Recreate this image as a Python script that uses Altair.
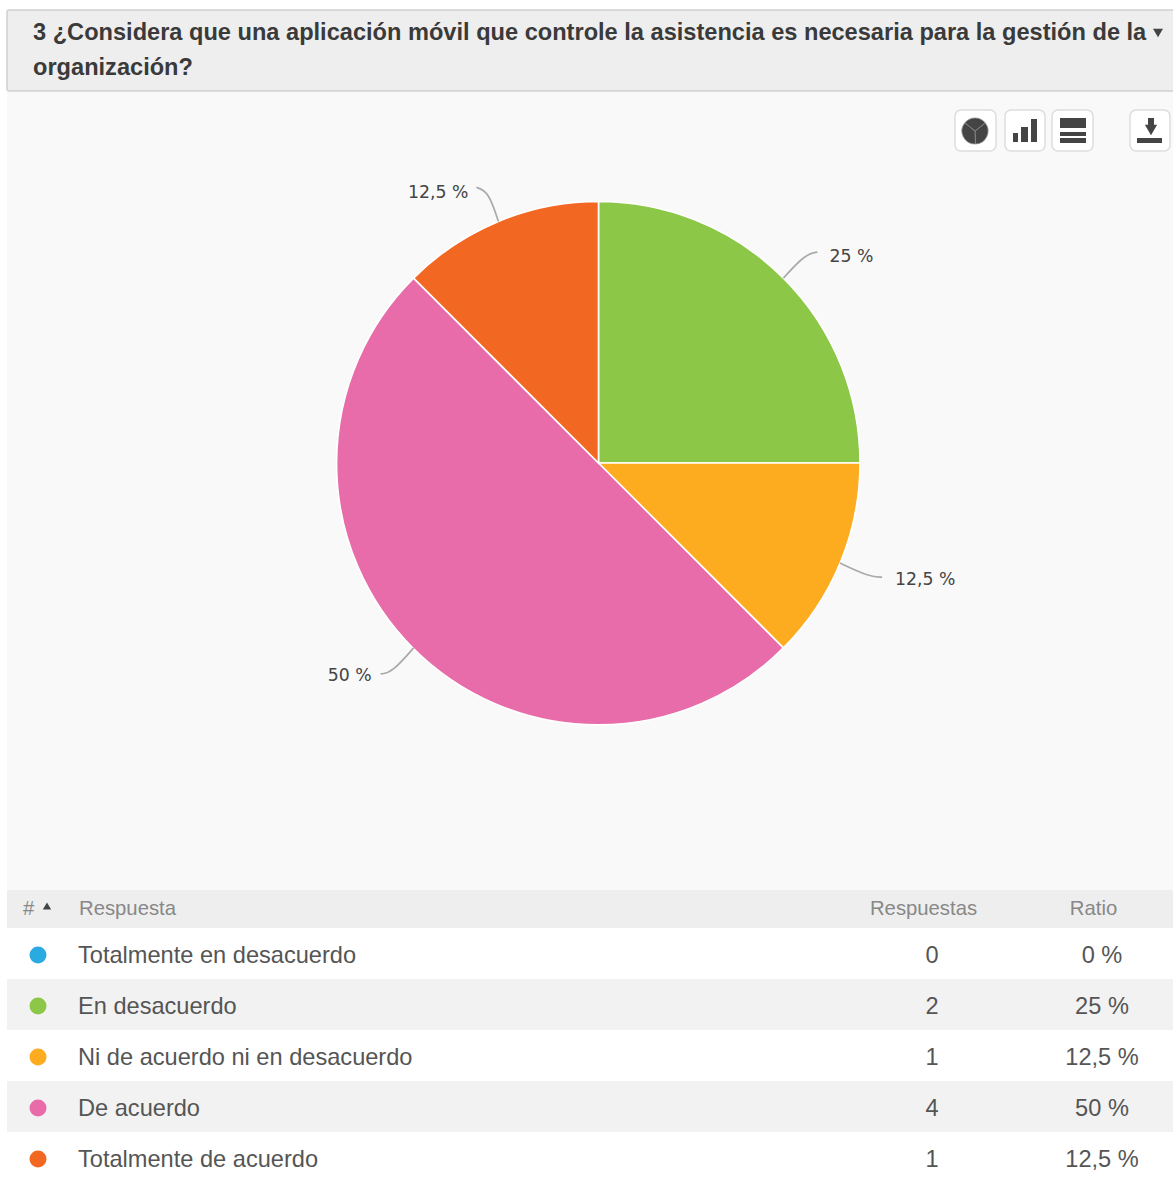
import math
import altair as alt
import pandas as pd

# Survey results
answers = ["Totalmente en desacuerdo", "En desacuerdo", "Ni de acuerdo ni en desacuerdo",
           "De acuerdo", "Totalmente de acuerdo"]
counts = [0, 2, 1, 4, 1]
colors = ["#29abe2", "#8cc747", "#fdab1f", "#e76ca9", "#f26722"]
question = ["3 ¿Considera que una aplicación móvil que controle la asistencia es necesaria para la gestión de la",
            "organización?"]

W, H = 1173, 1182
CX, CY, R = 598.5, 463, 261.5
SANS = "Liberation Sans"
total = sum(counts)


def pct(v):
    s = f"{v / total * 100:g}".replace(".", ",")
    return f"{s} %"


ratios = [pct(v) for v in counts]

x_scale = alt.Scale(domain=[0, W], range=[0, W], nice=False, zero=False)
y_scale = alt.Scale(domain=[0, H], range=[0, H], nice=False, zero=False)
X = alt.X("x:Q", scale=x_scale, axis=None)
Y = alt.Y("y:Q", scale=y_scale, axis=None)


def boxes(rows, **mark):
    df = pd.DataFrame(rows, columns=["x", "x2", "y", "y2", "fill"])
    return alt.Chart(df).mark_rect(**mark).encode(
        x=X, x2="x2:Q", y=Y, y2="y2:Q", fill=alt.Fill("fill:N", scale=None))


def texts(rows, **mark):
    df = pd.DataFrame(rows, columns=["x", "y", "t"])
    return alt.Chart(df).mark_text(**mark).encode(x=X, y=Y, text="t:N")


def triangles(rows, size, fill, shape="triangle-down"):
    df = pd.DataFrame(rows, columns=["x", "y"])
    return alt.Chart(df).mark_point(shape=shape, filled=True, size=size,
                                    color=fill, opacity=1).encode(x=X, y=Y)


# Page panels: question header, plot background and table stripes
row_edges = [(928, 979), (979, 1030), (1030, 1081), (1081, 1132), (1132, 1182)]
row_fills = ["#ffffff", "#f2f2f2", "#ffffff", "#f2f2f2", "#ffffff"]
panels = boxes(
    [[7, W, 92, 890, "#f9f9f9"], [7, W, 890, 928, "#eeeeee"]]
    + [[7, W, a, b, f] for (a, b), f in zip(row_edges, row_fills)]
)
header = boxes([[7, W + 4, 10, 91, "#eeeeee"]], stroke="#d0d0d0", strokeWidth=1.5, cornerRadius=2)
question_text = texts(
    [[33, 33, question[0]], [33, 68, question[1]]],
    align="left", baseline="middle", font=SANS, fontSize=23.6, fontWeight="bold", color="#3a3a3a",
)
caret = triangles([[1158, 33]], 100, "#444444")

# Toolbar buttons and their glyphs
buttons = boxes(
    [[955, 996, 110, 151, "#ffffff"], [1005, 1045, 110, 151, "#ffffff"],
     [1052, 1093, 110, 151, "#ffffff"], [1130, 1170, 110, 151, "#ffffff"]],
    stroke="#dddddd", strokeWidth=1.5, cornerRadius=6,
)
glyphs = boxes(
    [[1013, 1018, 133, 142, "#444444"], [1021, 1028, 127, 142, "#444444"], [1031, 1037, 119, 142, "#444444"],
     [1060, 1086, 118, 128, "#444444"], [1060, 1086, 132, 136, "#444444"], [1060, 1086, 138, 143, "#444444"],
     [1137, 1162, 138, 143, "#444444"], [1148, 1154, 118, 128, "#444444"]],
)
download_tip = triangles([[1151, 130]], 150, "#444444")
pie_glyph = alt.layer(*[
    alt.Chart(pd.DataFrame({"k": [0]})).mark_arc(
        outerRadius=13, fill="#444444", stroke="#888888", strokeWidth=0.8
    ).encode(x=alt.value(975), y=alt.value(131), theta=alt.value(a), theta2=alt.value(b))
    for a, b in [(0.9, 3.1), (3.1, 5.4), (5.4, 7.183)]
])

# Pie of the answers, starting at twelve o'clock and running clockwise
pie_df = pd.DataFrame({"answer": answers, "count": counts, "order": range(len(counts))})
color_scale = alt.Scale(domain=answers, range=colors)
pie = alt.Chart(pie_df).mark_arc(outerRadius=R, stroke="#ffffff", strokeWidth=1.6).encode(
    x=alt.value(CX), y=alt.value(CY),
    theta=alt.Theta("count:Q", stack=True, scale=alt.Scale(domain=[0, total], range=[0, 2 * math.pi])),
    order=alt.Order("order:Q"),
    color=alt.Color("answer:N", scale=color_scale, legend=None),
)

# Leader lines run from each slice's mid-angle to an elbow next to its label
knees = {1: (22, -24, 34, -26), 2: (30, 14, 42, 14), 3: (-22, 25, -33, 26), 4: (-10, -30, -22, -34)}
label_gap = {1: 12, 2: 13, 3: -9, 4: -8}
label_rise = {1: 5, 2: 3, 3: 2, 4: 6}
leader_rows, label_rows = [], []
acc = 0
for i, v in enumerate(counts):
    mid = (acc + v / 2) / total * 2 * math.pi
    acc += v
    if v == 0:
        continue
    px, py = CX + R * math.sin(mid), CY - R * math.cos(mid)
    kx, ky, ex, ey = knees[i]
    for step, (a, b) in enumerate([(px, py), (px + kx, py + ky), (px + ex, py + ey)]):
        leader_rows.append({"slice": i, "step": step, "x": a, "y": b})
    label_rows.append({"x": px + ex + label_gap[i], "y": py + ey + label_rise[i], "t": ratios[i],
                       "a": "left" if label_gap[i] > 0 else "right"})
leaders = alt.Chart(pd.DataFrame(leader_rows)).mark_line(
    interpolate="basis", color="#aaaaaa", strokeWidth=1.7
).encode(x=X, y=Y, detail="slice:N", order="step:Q")
label_df = pd.DataFrame(label_rows)
pie_labels = alt.layer(*[
    alt.Chart(label_df[label_df.a == side]).mark_text(
        align=side, baseline="middle", font="DejaVu Sans", fontSize=17.3, color="#444444"
    ).encode(x=X, y=Y, text="t:N")
    for side in ["left", "right"]
])

# Results table
head_left = texts([[23, 909, "#"], [79, 909, "Respuesta"]],
                  align="left", baseline="middle", font=SANS, fontSize=20.3, color="#888888")
head_center = texts([[923.5, 909, "Respuestas"], [1093.5, 909, "Ratio"]],
                    align="center", baseline="middle", font=SANS, fontSize=20.3, color="#888888")
sort_mark = triangles([[47, 906]], 70, "#444444", "triangle-up")
dot_y = [955, 1006, 1057, 1108, 1159]
text_y = [956, 1007, 1058, 1109, 1160]
table_df = pd.DataFrame({"answer": answers, "y": dot_y, "ty": text_y,
                         "count": [str(c) for c in counts], "ratio": ratios})
TY = alt.Y("ty:Q", scale=y_scale, axis=None)
dots = alt.Chart(table_df.assign(x=38)).mark_circle(size=290, opacity=1).encode(
    x=X, y=Y, color=alt.Color("answer:N", scale=color_scale, legend=None))
names = alt.Chart(table_df.assign(x=78)).mark_text(
    align="left", baseline="middle", font=SANS, fontSize=23.6, color="#555555"
).encode(x=X, y=TY, text="answer:N")
count_text = alt.Chart(table_df.assign(x=932)).mark_text(
    align="center", baseline="middle", font=SANS, fontSize=23.6, color="#555555"
).encode(x=X, y=TY, text="count:N")
ratio_text = alt.Chart(table_df.assign(x=1102)).mark_text(
    align="center", baseline="middle", font=SANS, fontSize=23.6, color="#555555"
).encode(x=X, y=TY, text="ratio:N")

chart = alt.layer(
    panels, header, question_text, caret, buttons, glyphs, download_tip, pie_glyph,
    pie, leaders, pie_labels,
    head_left, head_center, sort_mark, dots, names, count_text, ratio_text,
).properties(
    width=W, height=H, padding=0, background="#ffffff",
    autosize=alt.AutoSizeParams(type="none"),
).configure_view(stroke=None)

chart.save("out.html", embed_options={"renderer": "svg", "actions": False})
